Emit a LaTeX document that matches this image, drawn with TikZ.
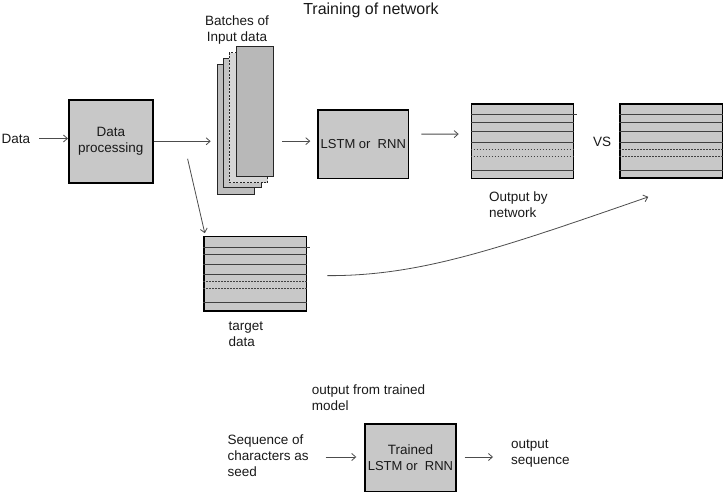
\documentclass[tikz,border=0pt]{standalone}
\usepackage{fontspec}
\setmainfont{Liberation Sans}
\usetikzlibrary{arrows.meta,calc}
\definecolor{boxgray}{HTML}{C8C8C8}
\definecolor{sheetA}{HTML}{BDBDBD}
\definecolor{sheetB}{HTML}{C4C4C4}
\definecolor{sheetC}{HTML}{D6D6D6}
\definecolor{sheetD}{HTML}{B8B8B8}
\newcommand\mystripes[1]{%
  \draw[stripe] ($(#1.north west)+(0,-11.5)$) -- ($(#1.north east)+(3,-11.5)$);
  \foreach \o in {19,28.7,39,67}{\draw[stripe] ($(#1.north west)+(0,-\o)$) -- ($(#1.north east)+(0,-\o)$);}
  \foreach \o in {46,53}{\draw[dstripe] ($(#1.north west)+(0,-\o)$) -- ($(#1.north east)+(0,-\o)$);}
}
\begin{document}
\begin{tikzpicture}[x=1pt,y=1pt,
  font=\fontsize{13.5}{16}\selectfont, text=black!90,
  box/.style={draw=black,line width=1.6pt,fill=boxgray,inner sep=0pt,anchor=north west,align=center},
  sheet/.style={draw=black!85,line width=0.9pt,inner sep=0pt,anchor=north west},
  arr/.style={draw=black!70,line width=0.8pt,-{Straight Barb[length=4pt,width=7pt]}},
  stripe/.style={draw=black!75,line width=1pt},
  dstripe/.style={draw=black!75,line width=0.7pt,dash pattern=on 1.5pt off 1.5pt},
  lbl/.style={align=left,anchor=west,inner sep=0pt},
]
\useasboundingbox (0,0) rectangle (723,-494);

% title
\node (title) at (371,-10) {\fontsize{16}{19}\selectfont Training of network};

% data input
\node[inner sep=0pt] (data) at (16,-138.5) {Data};
\node[box,minimum width=84pt,minimum height=83pt] (dp) at (68,-99) {Data\\processing};
\draw[arr] ([xshift=9pt]data.east) -- (data.east -| dp.west);

% batches stack
\node[sheet,fill=sheetA,minimum width=37.6pt,minimum height=130pt] (b1) at (216.7,-64) {};
\node[sheet,fill=sheetB,minimum width=37.4pt,minimum height=129.6pt] (b2) at (223.3,-57.7) {};
\node[sheet,fill=sheetC,dash pattern=on 2pt off 1.5pt,minimum width=38.3pt,minimum height=130pt] (b3) at (229,-52.3) {};
\node[sheet,fill=sheetD,minimum width=37.3pt,minimum height=130pt] (b4) at (236,-46) {};
\node[align=center] (bl) at (237,-30) {Batches of\\Input data};

\draw[arr] (dp.east) -- ([xshift=-6pt]dp.east -| b1.west);

% LSTM
\node[box,minimum width=90.4pt,minimum height=68.7pt] (lstm) at (317.3,-109) {\fontsize{13}{16}\selectfont LSTM or\ \ RNN};
\draw[arr] ([xshift=8pt,yshift=3pt]b4.east |- lstm.west) -- ([xshift=-7pt,yshift=3pt]lstm.west);

% output by network
\node[box,minimum width=102pt,minimum height=74.4pt] (out) at (470.7,-103.3) {};
\mystripes{out}
\draw[arr] ([xshift=12pt,yshift=10pt]lstm.east) -- ([xshift=-12pt,yshift=7.2pt]out.west);
\node[lbl] (obn) at (489,-204.5) {Output by\\network};

\node (vs) at (602,-141.5) {VS};

% right target copy
\node[box,minimum width=102.4pt,minimum height=74pt] (rb) at (619.3,-103.3) {};
\mystripes{rb}

% target data
\node[box,minimum width=102.4pt,minimum height=74.3pt] (tg) at (203.3,-235.7) {};
\mystripes{tg}
\node[lbl] (tgl) at (228.3,-334.7) {target\\data};

\coordinate (dd) at ($(dp.east)+(34,-17.5)$);
\draw[arr] (dd) -- ([shift={(1.5,2.5)}]tg.north west);

% curve
\coordinate (cs) at ($(tg.east)+(20,-2)$);
\coordinate (ce) at ($(rb.south west)+(29,-18)$);
\draw[arr] (cs) .. controls (420,-276) and (498,-249) .. (ce);

% bottom: inference
\node[lbl] (oft) at (311.7,-398) {output from trained\\model};
\node[lbl] (seq) at (227.3,-456) {Sequence of\\characters as\\seed};
\node[box,minimum width=90.7pt,minimum height=67.4pt] (tr) at (364.3,-423.3) {\rule{0pt}{8pt}Trained\\\fontsize{13}{16}\selectfont LSTM or\ \ RNN};
\node[lbl] (osq) at (511,-453.5) {output\\sequence};
\draw[arr] ([xshift=17pt,yshift=-1pt]seq.east) -- ([xshift=-8pt,yshift=-1pt]seq.east -| tr.west);
\draw[arr] ([xshift=8pt,yshift=-1pt]tr.east |- seq.east) -- ([xshift=-18pt,yshift=-1pt]seq.east -| osq.west);
\end{tikzpicture}
\end{document}
